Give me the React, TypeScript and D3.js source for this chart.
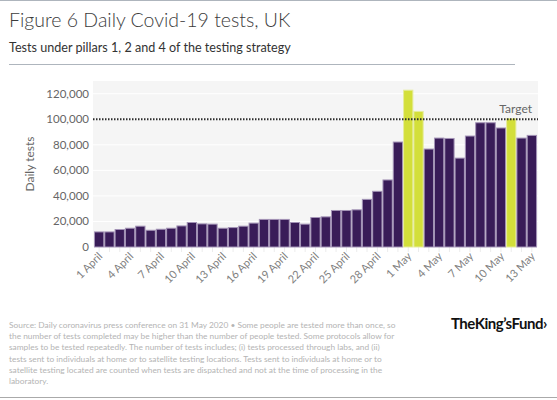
import React from 'react';
import * as d3 from 'd3';

// daily tests, 1 April to 13 May 2020
const days = [
    "1 April", "2 April", "3 April", "4 April", "5 April", "6 April", "7 April", "8 April", "9 April", "10 April",
    "11 April", "12 April", "13 April", "14 April", "15 April", "16 April", "17 April", "18 April", "19 April", "20 April",
    "21 April", "22 April", "23 April", "24 April", "25 April", "26 April", "27 April", "28 April", "29 April", "30 April",
    "1 May", "2 May", "3 May", "4 May", "5 May", "6 May", "7 May", "8 May", "9 May", "10 May",
    "11 May", "12 May", "13 May"
];

const tests = [
    11800, 11800, 13700, 14700, 16300, 13100, 13900, 14700, 16500, 19200,
    18100, 17900, 14700, 15200, 16300, 18700, 21600, 21600, 21600, 19200,
    17900, 23100, 23600, 28600, 28600, 29100, 37300, 43600, 52500, 82200,
    122800, 106200, 76700, 85300, 85000, 69600, 86900, 97300, 97300, 93200,
    100500, 85300, 87400
];

const yTicks = [0, 20000, 40000, 60000, 80000, 100000, 120000];
const target = 100000;

const footnote = [
    "Source: Daily coronavirus press conference on 31 May 2020 \u2022 Some people are tested more than once, so",
    "the number of tests completed may be higher than the number of people tested. Some protocols allow for",
    "samples to be tested repeatedly. The number of tests includes; (i) tests processed through labs, and (ii)",
    "tests sent to individuals at home or to satellite testing locations. Tests sent to individuals at home or to",
    "satellite testing located are counted when tests are dispatched and not at the time of processing in the",
    "laboratory."
];

const FONT = "Lato, 'Noto Sans', sans-serif";
const PURPLE = "#391c58";
const LIME = "#d3df3a";

const App = () => {
    const width = 557;
    const height = 400;
    const plot = { left: 93, right: 538, top: 81, bottom: 247 };

    const data = days.map((d, i) => ({ day: d, value: tests[i] }));

    const x = d3.scaleBand()
        .domain(days)
        .range([plot.left + 1, plot.right - 1])
        .paddingInner(0);

    const y = d3.scaleLinear()
        .domain([0, 130000])
        .range([plot.bottom, plot.top]);

    const fmt = d3.format(",");
    const labelled = days.filter((d, i) => i % 3 === 0);

    return (
        <svg width={width} height={height} style={{ position: "absolute", left: 0, top: 0, background: "#fff" }}
            fontFamily={FONT}>
            <line x1={0} x2={width} y1={0.5} y2={0.5} stroke="#aeb5bd" />
            <text x={9} y={27} fontSize={19.5} fontWeight={300} fill="#3c3c3c">Figure 6 Daily Covid-19 tests, UK</text>
            <text x={9} y={52} fontSize={12.6} fill="#333">Tests under pillars 1, 2 and 4 of the testing strategy</text>
            <line x1={9} x2={515} y1={64.5} y2={64.5} stroke="#aeb5bd" />

            {/* plot background and gridlines */}
            <rect x={plot.left} y={plot.top} width={plot.right - plot.left} height={plot.bottom - plot.top} fill="#f5f5f5" />
            {yTicks.map(t => (
                <line key={t} x1={plot.left} x2={plot.right} y1={y(t)} y2={y(t)} stroke="#fff" />
            ))}

            {/* category ticks under the axis */}
            {days.map(d => (
                <line key={d} x1={x(d)! + x.bandwidth() / 2} x2={x(d)! + x.bandwidth() / 2}
                    y1={plot.bottom} y2={plot.bottom + 5} stroke="#ececec" />
            ))}

            {data.map(d => (
                <rect key={d.day}
                    x={x(d.day)! + 0.5}
                    y={y(d.value)}
                    width={x.bandwidth() - 1}
                    height={y(0) - y(d.value)}
                    fill={d.value >= target ? LIME : PURPLE}
                    stroke={d.value >= target ? "#e6ec9c" : "#a393b6"}
                    strokeWidth={1} />
            ))}

            <line x1={plot.left} x2={plot.right} y1={y(target)} y2={y(target)}
                stroke="#2b2b2b" strokeWidth={2} strokeDasharray="1.5 1.5" />
            <text x={532} y={113} fontSize={12} fill="#666" textAnchor="end">Target</text>

            {/* y axis */}
            {yTicks.map(t => (
                <text key={t} x={89} y={y(t)} dy="0.35em" fontSize={11.5} fill="#666" textAnchor="end">{fmt(t)}</text>
            ))}
            <text transform={`translate(30, ${(plot.top + plot.bottom) / 2}) rotate(-90)`} fontSize={12} fill="#666"
                textAnchor="middle" dy="0.35em">Daily tests</text>

            {/* x axis */}
            {labelled.map(d => {
                const cx = x(d)! + x.bandwidth() / 2 + 4;
                return (
                    <text key={d} transform={`translate(${cx}, 257) rotate(-45)`} fontSize={11} fill="#808080"
                        textAnchor="end">{d}</text>
                );
            })}

            {/* footnote */}
            {footnote.map((line, i) => (
                <text key={i} x={9} y={328 + i * 11.2} fontSize={8.35} fill="#b4b4b4">{line}</text>
            ))}

            <text x={451} y={329} fontSize={15} fontWeight={700} fill="#111" letterSpacing={-0.5}>
                TheKing{"\u2019"}sFund{"\u203A"}
            </text>

            <line x1={0} x2={width} y1={397.5} y2={397.5} stroke="#aaaaaa" />
        </svg>
    );
};

export default App;
